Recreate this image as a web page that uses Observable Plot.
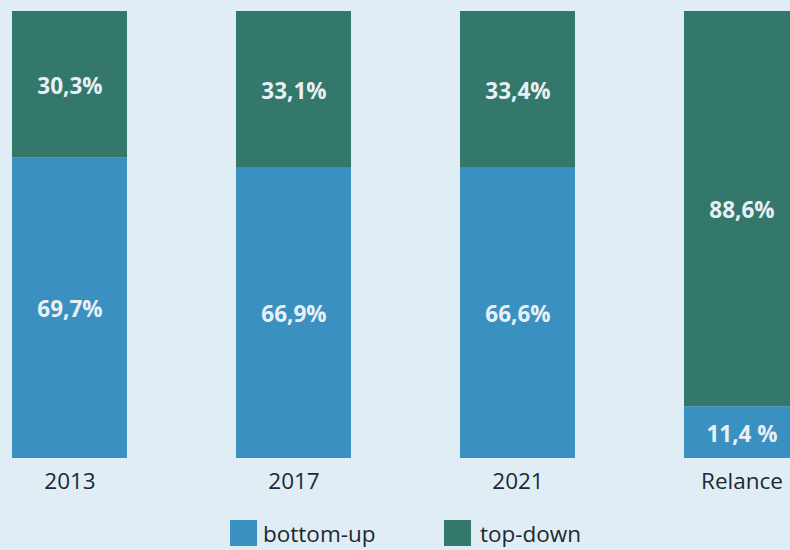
<!DOCTYPE html>
<html>
<head>
<meta charset="utf-8">
<script src="https://cdn.jsdelivr.net/npm/d3@7"></script>
<script src="https://cdn.jsdelivr.net/npm/@observablehq/plot@0.6"></script>
<style>
  html, body { margin: 0; padding: 0; background: #e1edf5; overflow: hidden; }
  #wrap { position: relative; width: 790px; height: 550px; font-family: "Open Sans", sans-serif; }
  .legend { position: absolute; top: 520px; height: 26px; display: flex; align-items: center; font-size: 22.5px; color: #1c2833; }
  .sw { width: 27px; height: 26px; flex: none; }
</style>
</head>
<body>
<div id="wrap"></div>
<script>
const categories = ["2013", "2017", "2021", "Relance"];
const seriesNames = ["bottom-up", "top-down"];
const bottomUp = [67.3, 65.1, 65.1, 11.6];
const topDown = [32.7, 34.9, 34.9, 88.4];
const bottomLabels = ["69,7%", "66,9%", "66,6%", "11,4 %"];
const topLabels = ["30,3%", "33,1%", "33,4%", "88,6%"];
const colors = ["#3a91c1", "#34776b"];

const data = categories.flatMap((c, i) => [
  {cat: c, series: seriesNames[0], value: bottomUp[i], label: bottomLabels[i]},
  {cat: c, series: seriesNames[1], value: topDown[i], label: topLabels[i]}
]);

const chart = Plot.plot({
  width: 790,
  height: 500,
  marginLeft: 0,
  marginRight: 0,
  marginTop: 11,
  marginBottom: 42,
  style: {background: "transparent", fontFamily: "Open Sans, sans-serif", fontSize: "22.5px", color: "#1c2833", overflow: "hidden"},
  x: {domain: categories, range: [12, 799], paddingInner: 0.4866, paddingOuter: 0, round: false, label: null, tickSize: 0, tickPadding: 15},
  y: {domain: [0, 100], axis: null},
  color: {domain: seriesNames, range: colors},
  marks: [
    Plot.barY(data, {x: "cat", y: "value", fill: "series", order: seriesNames}),
    Plot.text(data, Plot.stackY({x: "cat", y: "value", z: "series", text: "label", order: seriesNames,
      fill: "#e8f0f4", fontWeight: "bold", fontSize: 22.5, dy: 2}))
  ]
});

const wrap = document.getElementById("wrap");
wrap.appendChild(chart);

const legendX = [230, 444];
const legendGap = [6, 9];
seriesNames.forEach((s, i) => {
  const d = document.createElement("div");
  d.className = "legend";
  d.style.left = legendX[i] + "px";
  const sw = document.createElement("div");
  sw.className = "sw";
  sw.style.background = colors[i];
  sw.style.marginRight = legendGap[i] + "px";
  const t = document.createElement("span");
  t.textContent = s;
  d.appendChild(sw);
  d.appendChild(t);
  wrap.appendChild(d);
});
</script>
</body>
</html>
